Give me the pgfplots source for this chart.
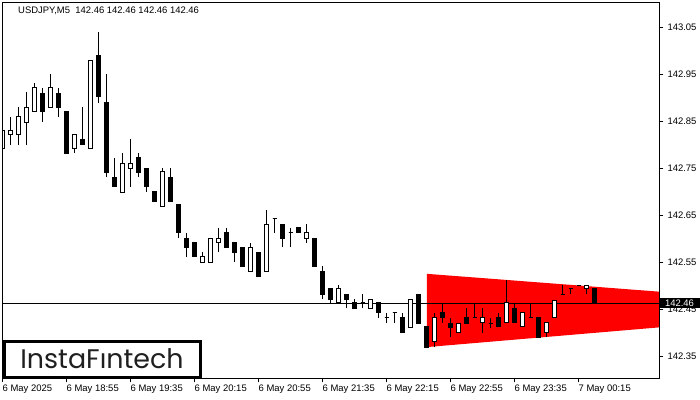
\documentclass[border=0pt]{standalone}
\usepackage{fontspec}
\setmainfont{Liberation Sans}
\newfontfamily\logofont{Poppins}
\usepackage{pgfplots}
\usepackage{pgfplotstable}
\pgfplotsset{compat=1.18}

% k = bar index (5-minute bars from 6 May 18:15), o h l c = open high low close
\pgfplotstableread{
k o h l c
0 142.791 142.836 142.772 142.831
1 142.821 142.859 142.799 142.830
2 142.821 142.880 142.799 142.859
3 142.848 142.912 142.799 142.880
4 142.870 142.931 142.870 142.921
5 142.910 142.921 142.848 142.870
6 142.880 142.951 142.880 142.921
7 142.910 142.921 142.859 142.880
8 142.870 142.870 142.782 142.782
9 142.791 142.821 142.782 142.821
10 142.812 142.880 142.801 142.801
11 142.791 142.980 142.791 142.980
12 142.991 143.040 142.889 142.902
13 142.889 142.951 142.731 142.740
14 142.731 142.772 142.710 142.710
15 142.699 142.782 142.699 142.761
16 142.750 142.812 142.710 142.761
17 142.772 142.782 142.731 142.740
18 142.750 142.750 142.699 142.710
19 142.701 142.701 142.680 142.680
20 142.669 142.750 142.669 142.742
21 142.731 142.750 142.680 142.680
22 142.672 142.672 142.601 142.612
23 142.601 142.612 142.561 142.582
24 142.591 142.591 142.561 142.561
25 142.550 142.571 142.550 142.561
26 142.550 142.601 142.550 142.601
27 142.591 142.623 142.571 142.601
28 142.612 142.623 142.582 142.582
29 142.591 142.591 142.550 142.571
30 142.582 142.582 142.540 142.540
31 142.529 142.591 142.529 142.582
32 142.571 142.571 142.520 142.520
33 142.529 142.661 142.529 142.631
34 142.642 142.642 142.612 142.642
35 142.631 142.631 142.582 142.601
36 142.612 142.623 142.582 142.612
37 142.623 142.623 142.612 142.612
38 142.601 142.631 142.591 142.612
39 142.601 142.601 142.540 142.540
40 142.531 142.542 142.471 142.480
41 142.493 142.493 142.463 142.471
42 142.463 142.501 142.463 142.493
43 142.482 142.482 142.452 142.471
44 142.463 142.471 142.452 142.452
45 142.463 142.482 142.452 142.463
46 142.452 142.471 142.452 142.471
47 142.463 142.463 142.431 142.442
48 142.431 142.442 142.420 142.431
49 142.442 142.442 142.420 142.442
50 142.431 142.442 142.399 142.399
51 142.410 142.471 142.410 142.471
52 142.482 142.482 142.420 142.420
53 142.412 142.412 142.369 142.369
54 142.380 142.442 142.369 142.431
55 142.442 142.463 142.420 142.431
56 142.420 142.431 142.390 142.410
57 142.399 142.420 142.399 142.420
58 142.431 142.452 142.420 142.420
59 142.431 142.463 142.431 142.431
60 142.422 142.452 142.399 142.431
61 142.420 142.431 142.410 142.420
62 142.431 142.442 142.412 142.412
63 142.422 142.512 142.422 142.463
64 142.452 142.463 142.422 142.422
65 142.412 142.442 142.412 142.442
66 142.431 142.463 142.431 142.431
67 142.431 142.431 142.390 142.390
68 142.401 142.422 142.390 142.422
69 142.431 142.469 142.431 142.469
70 142.482 142.501 142.482 142.482
71 142.493 142.493 142.482 142.493
72 142.501 142.501 142.501 142.501
73 142.493 142.501 142.482 142.501
74 142.493 142.493 142.463 142.463
}\candles

\newcommand{\tickfont}{\fontsize{9.5}{11}\selectfont}

\begin{document}
\begin{tikzpicture}
\path[use as bounding box] (0bp,0bp) rectangle (700bp,400bp);
\begin{axis}[
  at={(2.3bp,21.5bp)}, anchor=south west,
  scale only axis, width=657bp, height=375.8bp,
  xmin=-0.0875, xmax=82.04, ymin=142.3021, ymax=143.1024,
  axis on top,
  axis line style={black, line width=1bp},
  tick align=outside,
  major tick length=4bp,
  tick style={black, line width=1bp},
  xtick pos=left, ytick pos=right,
  yticklabel pos=right,
  xtick={0,8,16,24,32,40,48,56,64,72},
  xticklabels={6 May 2025, 6 May 18:55, 6 May 19:35, 6 May 20:15, 6 May 20:55, 6 May 21:35, 6 May 22:15, 6 May 22:55, 6 May 23:35, 7 May 00:15},
  xticklabel style={anchor=north west, inner sep=0pt, font=\tickfont, xshift=-0.5bp, yshift=-2bp},
  ytick={142.35,142.45,142.55,142.65,142.75,142.85,142.95,143.05},
  yticklabel={\pgfmathprintnumber[fixed,fixed zerofill,precision=2]{\tick}},
  /pgf/number format/assume math mode=true,
  yticklabel style={anchor=west, inner sep=0pt, font=\tickfont, xshift=4bp},
]
% symmetrical triangle pattern
\addplot[fill=red, draw=none] coordinates {(53,142.525) (82.04,142.487) (82.04,142.411) (53,142.369)} -- cycle;
% current price line
\addplot[black, line width=1bp] coordinates {(-0.0875,142.462) (82.04,142.462)};
% candles
\pgfplotsinvokeforeach{0,...,74}{%
  \pgfplotstablegetelem{#1}{k}\of{\candles}\let\ck\pgfplotsretval
  \pgfplotstablegetelem{#1}{o}\of{\candles}\let\co\pgfplotsretval
  \pgfplotstablegetelem{#1}{h}\of{\candles}\let\chh\pgfplotsretval
  \pgfplotstablegetelem{#1}{l}\of{\candles}\let\cl\pgfplotsretval
  \pgfplotstablegetelem{#1}{c}\of{\candles}\let\cc\pgfplotsretval
  \pgfmathsetmacro{\xl}{\ck-0.25}%
  \pgfmathsetmacro{\xr}{\ck+0.25}%
  \ifdim\cc pt<\co pt \def\fillc{black}\else\def\fillc{white}\fi
  \edef\next{%
    \noexpand\addplot[black, line width=1bp] coordinates {(\ck,\cl) (\ck,\chh)};
    \noexpand\addplot[draw=black, fill=\fillc, line width=1bp] coordinates {(\xl,\co) (\xr,\co) (\xr,\cc) (\xl,\cc)} -- cycle;
  }\next
}
\coordinate (pl) at (axis cs:82.04,142.462);
\end{axis}
% price label
\fill[black] ([xshift=0.7bp,yshift=-5bp]pl) rectangle ++(40bp,10bp);
\node[anchor=west, inner sep=0pt, text=white, font=\tickfont] at ([xshift=5.5bp]pl) {142.46};
% title
\node[anchor=base west, inner sep=0pt, font=\tickfont] at (18bp,386bp) {USDJPY,M5\ \ 142.46 142.46 142.46 142.46};
% logo
\draw[line width=2.6bp, fill=white] (4.3bp,23bp) rectangle (200.4bp,58.7bp);
\node[inner sep=0pt, text=black!88, font=\logofont\fontsize{27}{30}\selectfont] at (102bp,41.5bp) {InstaFıntech};
\end{tikzpicture}
\end{document}
